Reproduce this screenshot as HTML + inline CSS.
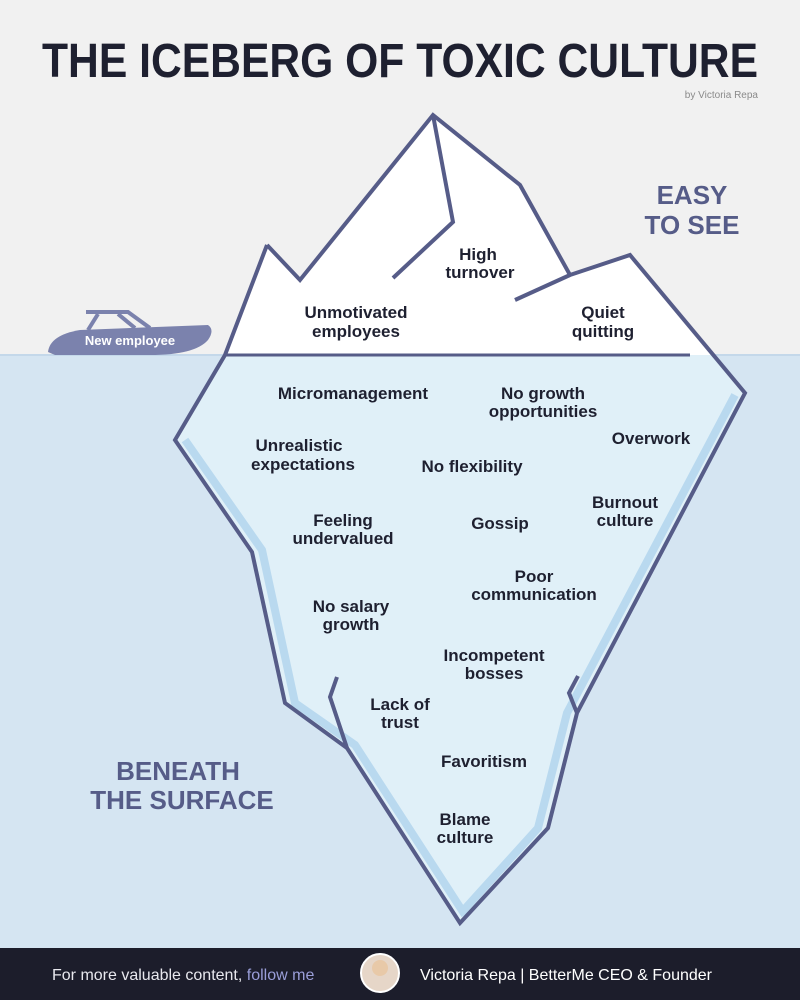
<!DOCTYPE html>
<html><head><meta charset="utf-8"><style>
html,body{margin:0;padding:0;width:800px;height:1000px;overflow:hidden;background:#f1f1f1}
svg{display:block}
</style></head><body>
<svg width="800" height="1000" viewBox="0 0 800 1000" xmlns="http://www.w3.org/2000/svg" font-family="Liberation Sans, sans-serif">
<rect x="0" y="0" width="800" height="355" fill="#f1f1f1"/>
<rect x="0" y="355" width="800" height="593" fill="#d5e5f2"/>
<line x1="0" y1="355" x2="800" y2="355" stroke="#c4d8ea" stroke-width="2"/>
<text x="400" y="77" text-anchor="middle" font-size="48" font-weight="bold" fill="#1e2030" textLength="716" lengthAdjust="spacingAndGlyphs">THE ICEBERG OF TOXIC CULTURE</text>
<text x="758" y="98" text-anchor="end" font-size="10" fill="#8a8a8a">by Victoria Repa</text>
<polygon points="225,355 713,355 745,393 577,713 548,828 460,923 347,748 285,703 252,552 175,440" fill="#e0f0f8"/>
<polyline points="185,440 262,550 295,703 355,745 465,915" fill="none" stroke="#b9d9ef" stroke-width="8"/>
<polyline points="735,395 567,713 538,828 462,912" fill="none" stroke="#b9d9ef" stroke-width="8"/>
<polygon points="225,355 267,245 300,280 433,115 520,185 570,275 630,255 713,355" fill="#ffffff"/>
<polyline points="267,245 225,355 175,440 252,552 285,703 347,748 460,923 548,828 577,713 745,393 630,255 570,275 520,185 433,115 300,280 267,245" fill="none" stroke="#565c88" stroke-width="4" stroke-linejoin="miter"/>
<line x1="225" y1="355" x2="690" y2="355" stroke="#565c88" stroke-width="3"/>
<polyline points="433,115 453,222 393,278" fill="none" stroke="#565c88" stroke-width="4"/>
<polyline points="570,275 515,300" fill="none" stroke="#565c88" stroke-width="4"/>
<polyline points="337,677 330,697 347,748" fill="none" stroke="#565c88" stroke-width="4"/>
<polyline points="578,676 569,693 577,713" fill="none" stroke="#565c88" stroke-width="4"/>
<path d="M48,352 Q50,335 80,330 L208,325 Q215,330 208,340 Q195,355 150,355 L55,355 Z" fill="#7b82ad"/>
<path d="M86,312 L128,312 L150,328" fill="none" stroke="#7b82ad" stroke-width="4"/>
<path d="M98,314 L88,330 M118,314 L135,328" stroke="#7b82ad" stroke-width="4"/>
<text x="130" y="345" text-anchor="middle" font-size="13" font-weight="bold" fill="#ffffff">New employee</text>
<g font-size="26" font-weight="bold" fill="#565c88" text-anchor="middle">
<text x="692" y="204">EASY</text><text x="692" y="234">TO SEE</text>
<text x="178" y="780">BENEATH</text><text x="182" y="809">THE SURFACE</text>
</g>
<g font-size="17" font-weight="bold" fill="#1e2030" text-anchor="middle">
<text x="478" y="260">High</text><text x="480" y="278">turnover</text>
<text x="356" y="318">Unmotivated</text><text x="356" y="337">employees</text>
<text x="603" y="318">Quiet</text><text x="603" y="337">quitting</text>
<text x="353" y="399">Micromanagement</text>
<text x="543" y="399">No growth</text><text x="543" y="417">opportunities</text>
<text x="651" y="444">Overwork</text>
<text x="299" y="451">Unrealistic</text><text x="303" y="470">expectations</text>
<text x="472" y="472">No flexibility</text>
<text x="625" y="508">Burnout</text><text x="625" y="526">culture</text>
<text x="343" y="526">Feeling</text><text x="343" y="544">undervalued</text>
<text x="500" y="529">Gossip</text>
<text x="534" y="582">Poor</text><text x="534" y="600">communication</text>
<text x="351" y="612">No salary</text><text x="351" y="630">growth</text>
<text x="494" y="661">Incompetent</text><text x="494" y="679">bosses</text>
<text x="400" y="710">Lack of</text><text x="400" y="728">trust</text>
<text x="484" y="767">Favoritism</text>
<text x="465" y="825">Blame</text><text x="465" y="843">culture</text>
</g>
<rect x="0" y="948" width="800" height="52" fill="#1c1d2b"/>
<text x="52" y="980" font-size="16" fill="#e8e8ee">For more valuable content, <tspan fill="#9a9ed8">follow me</tspan></text>
<circle cx="380" cy="973" r="19" fill="#e6d6c8" stroke="#fff" stroke-width="2"/>
<circle cx="380" cy="968" r="8" fill="#e8c9a8"/>
<text x="420" y="980" font-size="16" fill="#ffffff">Victoria Repa |  BetterMe CEO &amp; Founder</text>
</svg>
</body></html>
